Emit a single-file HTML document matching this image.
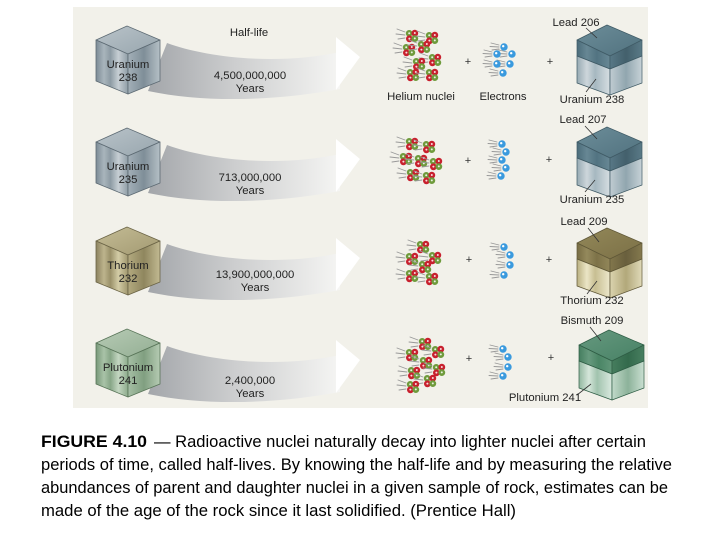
<!DOCTYPE html>
<html><head><meta charset="utf-8">
<style>
html,body{margin:0;padding:0;background:#fff;}
svg{display:block;}
text{font-family:"Liberation Sans",Arial,sans-serif;}
</style></head>
<body>
<svg width="720" height="540" viewBox="0 0 720 540" xmlns="http://www.w3.org/2000/svg">
<defs>
  <linearGradient id="band" gradientUnits="userSpaceOnUse" x1="148" y1="0" x2="342" y2="0">
    <stop offset="0" stop-color="#a3a6aa"/>
    <stop offset="0.45" stop-color="#cdcecf"/>
    <stop offset="1" stop-color="#f6f6f4"/>
  </linearGradient>
  <linearGradient id="uL2" x1="0" x2="1" y1="0" y2="0">
    <stop offset="0" stop-color="#7c8b96"/><stop offset="0.25" stop-color="#a9b5bc"/>
    <stop offset="0.45" stop-color="#8d9ba4"/><stop offset="0.7" stop-color="#c6ced3"/>
    <stop offset="1" stop-color="#909ea7"/>
  </linearGradient>
  <linearGradient id="uR" x1="0" x2="1" y1="0" y2="0">
    <stop offset="0" stop-color="#a3b0b8"/><stop offset="0.5" stop-color="#7f8e98"/><stop offset="1" stop-color="#b5c0c6"/>
  </linearGradient>
  <linearGradient id="uT" x1="0" x2="1" y1="0" y2="1">
    <stop offset="0" stop-color="#b9c3c9"/><stop offset="1" stop-color="#98a6ae"/>
  </linearGradient>
  <linearGradient id="tL" x1="0" x2="1">
    <stop offset="0" stop-color="#8c8360"/><stop offset="0.25" stop-color="#bdb48d"/>
    <stop offset="0.45" stop-color="#9a9169"/><stop offset="0.7" stop-color="#d3cca6"/>
    <stop offset="1" stop-color="#a0976e"/>
  </linearGradient>
  <linearGradient id="tR" x1="0" x2="1">
    <stop offset="0" stop-color="#b3aa80"/><stop offset="0.5" stop-color="#8f865e"/><stop offset="1" stop-color="#c2ba92"/>
  </linearGradient>
  <linearGradient id="tT" x1="0" x2="1" y1="0" y2="1">
    <stop offset="0" stop-color="#c4bc95"/><stop offset="1" stop-color="#a39a72"/>
  </linearGradient>
  <linearGradient id="pL" x1="0" x2="1">
    <stop offset="0" stop-color="#789879"/><stop offset="0.25" stop-color="#a9c3a8"/>
    <stop offset="0.45" stop-color="#87a687"/><stop offset="0.7" stop-color="#c3d6c1"/>
    <stop offset="1" stop-color="#8dab8c"/>
  </linearGradient>
  <linearGradient id="pR" x1="0" x2="1">
    <stop offset="0" stop-color="#a6bfa5"/><stop offset="0.5" stop-color="#809f80"/><stop offset="1" stop-color="#b5cbb3"/>
  </linearGradient>
  <linearGradient id="pT" x1="0" x2="1" y1="0" y2="1">
    <stop offset="0" stop-color="#b7cbb5"/><stop offset="1" stop-color="#93ae93"/>
  </linearGradient>
  <linearGradient id="dLT" x1="0" x2="1" y1="0" y2="1">
    <stop offset="0" stop-color="#6c8d99"/><stop offset="1" stop-color="#51727f"/>
  </linearGradient>
  <linearGradient id="dLU" x1="0" x2="1">
    <stop offset="0" stop-color="#4b6c7a"/><stop offset="0.3" stop-color="#678794"/><stop offset="0.6" stop-color="#527381"/><stop offset="1" stop-color="#688895"/>
  </linearGradient>
  <linearGradient id="dLR" x1="0" x2="1">
    <stop offset="0" stop-color="#587886"/><stop offset="0.5" stop-color="#43606c"/><stop offset="1" stop-color="#5a7a87"/>
  </linearGradient>
  <linearGradient id="dLB" x1="0" x2="1">
    <stop offset="0" stop-color="#97aab3"/><stop offset="0.3" stop-color="#cdd6db"/><stop offset="0.55" stop-color="#a6b8c0"/><stop offset="1" stop-color="#d6dee2"/>
  </linearGradient>
  <linearGradient id="dLBR" x1="0" x2="1">
    <stop offset="0" stop-color="#c0ccd2"/><stop offset="0.5" stop-color="#91a6af"/><stop offset="1" stop-color="#c7d2d7"/>
  </linearGradient>
  <linearGradient id="oT" x1="0" x2="1" y1="0" y2="1">
    <stop offset="0" stop-color="#938859"/><stop offset="1" stop-color="#7b7046"/>
  </linearGradient>
  <linearGradient id="oU" x1="0" x2="1">
    <stop offset="0" stop-color="#776c43"/><stop offset="0.3" stop-color="#94895c"/><stop offset="0.6" stop-color="#7d7248"/><stop offset="1" stop-color="#92875a"/>
  </linearGradient>
  <linearGradient id="oR" x1="0" x2="1">
    <stop offset="0" stop-color="#82774c"/><stop offset="0.5" stop-color="#695f3d"/><stop offset="1" stop-color="#84794e"/>
  </linearGradient>
  <linearGradient id="oB" x1="0" x2="1">
    <stop offset="0" stop-color="#bab081"/><stop offset="0.3" stop-color="#ebe5c6"/><stop offset="0.55" stop-color="#c7be92"/><stop offset="1" stop-color="#ede8cc"/>
  </linearGradient>
  <linearGradient id="oBR" x1="0" x2="1">
    <stop offset="0" stop-color="#dbd4af"/><stop offset="0.5" stop-color="#b2a87a"/><stop offset="1" stop-color="#e0dab9"/>
  </linearGradient>
  <linearGradient id="gT" x1="0" x2="1" y1="0" y2="1">
    <stop offset="0" stop-color="#66997f"/><stop offset="1" stop-color="#478165"/>
  </linearGradient>
  <linearGradient id="gU" x1="0" x2="1">
    <stop offset="0" stop-color="#457e5f"/><stop offset="0.3" stop-color="#679a7e"/><stop offset="0.6" stop-color="#4a8565"/><stop offset="1" stop-color="#62977a"/>
  </linearGradient>
  <linearGradient id="gR" x1="0" x2="1">
    <stop offset="0" stop-color="#467d5e"/><stop offset="0.5" stop-color="#336a4c"/><stop offset="1" stop-color="#487f60"/>
  </linearGradient>
  <linearGradient id="gB" x1="0" x2="1">
    <stop offset="0" stop-color="#92b7a0"/><stop offset="0.3" stop-color="#d5e6da"/><stop offset="0.55" stop-color="#a1c3ae"/><stop offset="1" stop-color="#dae9df"/>
  </linearGradient>
  <linearGradient id="gBR" x1="0" x2="1">
    <stop offset="0" stop-color="#c1d9c9"/><stop offset="0.5" stop-color="#8cb29a"/><stop offset="1" stop-color="#cadfd1"/>
  </linearGradient>

  <g id="he">
    <g stroke="#999" stroke-width="0.9" stroke-linecap="round">
      <line x1="-15" y1="-7" x2="-7" y2="-4"/>
      <line x1="-16" y1="-2" x2="-7" y2="-1"/>
      <line x1="-14" y1="3" x2="-7" y2="2"/>
    </g>
    <circle cx="-2.8" cy="-2.6" r="3.4" fill="#6f9b3c"/>
    <circle cx="2.8" cy="-2.8" r="3.4" fill="#c8202e"/>
    <circle cx="-2.6" cy="2.8" r="3.4" fill="#c8202e"/>
    <circle cx="2.8" cy="2.6" r="3.4" fill="#6f9b3c"/>
    <g fill="#fff" opacity="0.85">
      <circle cx="-2.8" cy="-2.8" r="1"/><circle cx="2.8" cy="-3" r="1"/>
      <circle cx="-2.6" cy="2.6" r="1"/><circle cx="2.8" cy="2.4" r="1"/>
    </g>
  </g>
  <g id="el">
    <g stroke="#999" stroke-width="0.9" stroke-linecap="round">
      <line x1="-13" y1="-4" x2="-5" y2="-2"/>
      <line x1="-14" y1="-0.5" x2="-5" y2="0"/>
      <line x1="-12" y1="3" x2="-5" y2="2"/>
    </g>
    <circle r="3.7" fill="#3a9ade"/>
    <circle cx="-0.8" cy="-0.8" r="1.2" fill="#fff"/>
  </g>

  <path id="arrowband" d="M167,43 C205,57 275,66 340,52 L340,89 C275,101 205,103 148,91 Z"/>
  <path id="arrowhead" d="M336,37 L360,57 L336,90 Z"/>
</defs>

<rect x="73" y="7" width="575" height="401" fill="#f2f1ea"/>

<g fill="url(#band)">
  <use href="#arrowband"/>
  <use href="#arrowband" transform="translate(0,102)"/>
  <use href="#arrowband" transform="translate(0,201)"/>
  <use href="#arrowband" transform="translate(0,303)"/>
</g>
<g fill="#ffffff">
  <use href="#arrowhead"/>
  <use href="#arrowhead" transform="translate(0,102)"/>
  <use href="#arrowhead" transform="translate(0,201)"/>
  <use href="#arrowhead" transform="translate(0,303)"/>
</g>

<g stroke-width="0.8" stroke-linejoin="round">
  <g stroke="#5d6a73">
    <polygon points="127,26 160,40 128,54 96,40" fill="url(#uT)"/>
    <polygon points="96,40 128,54 128,94 96,81" fill="url(#uL2)"/>
    <polygon points="128,54 160,40 160,81 128,94" fill="url(#uR)"/>
  </g>
  <g stroke="#5d6a73" transform="translate(0,102)">
    <polygon points="127,26 160,40 128,54 96,40" fill="url(#uT)"/>
    <polygon points="96,40 128,54 128,94 96,81" fill="url(#uL2)"/>
    <polygon points="128,54 160,40 160,81 128,94" fill="url(#uR)"/>
  </g>
  <g stroke="#6b6446" transform="translate(0,201)">
    <polygon points="127,26 160,40 128,54 96,40" fill="url(#tT)"/>
    <polygon points="96,40 128,54 128,94 96,81" fill="url(#tL)"/>
    <polygon points="128,54 160,40 160,81 128,94" fill="url(#tR)"/>
  </g>
  <g stroke="#587458" transform="translate(0,303)">
    <polygon points="127,26 160,40 128,54 96,40" fill="url(#pT)"/>
    <polygon points="96,40 128,54 128,94 96,81" fill="url(#pL)"/>
    <polygon points="128,54 160,40 160,81 128,94" fill="url(#pR)"/>
  </g>
</g>

<g stroke-width="0.7" stroke-linejoin="round">
  <g stroke="#3f5a65" transform="translate(607,25)">
    <polygon points="0,0 35,15 3,31 -30,15" fill="url(#dLT)"/>
    <polygon points="-30,15 3,31 3,44 -30,31" fill="url(#dLU)"/>
    <polygon points="3,31 35,15 35,31 3,44" fill="url(#dLR)"/>
    <polygon points="-30,31 3,44 3,70 -30,58" fill="url(#dLB)"/>
    <polygon points="3,44 35,31 35,58 3,70" fill="url(#dLBR)"/>
  </g>
  <g stroke="#3f5a65" transform="translate(607,127)">
    <polygon points="0,0 35,15 3,31 -30,15" fill="url(#dLT)"/>
    <polygon points="-30,15 3,31 3,44 -30,31" fill="url(#dLU)"/>
    <polygon points="3,31 35,15 35,31 3,44" fill="url(#dLR)"/>
    <polygon points="-30,31 3,44 3,70 -30,58" fill="url(#dLB)"/>
    <polygon points="3,44 35,31 35,58 3,70" fill="url(#dLBR)"/>
  </g>
  <g stroke="#5f5737" transform="translate(607,228)">
    <polygon points="0,0 35,15 3,31 -30,15" fill="url(#oT)"/>
    <polygon points="-30,15 3,31 3,44 -30,31" fill="url(#oU)"/>
    <polygon points="3,31 35,15 35,31 3,44" fill="url(#oR)"/>
    <polygon points="-30,31 3,44 3,70 -30,58" fill="url(#oB)"/>
    <polygon points="3,44 35,31 35,58 3,70" fill="url(#oBR)"/>
  </g>
  <g stroke="#2f5d45" transform="translate(609,330)">
    <polygon points="0,0 35,15 3,31 -30,15" fill="url(#gT)"/>
    <polygon points="-30,15 3,31 3,44 -30,31" fill="url(#gU)"/>
    <polygon points="3,31 35,15 35,31 3,44" fill="url(#gR)"/>
    <polygon points="-30,31 3,44 3,70 -30,58" fill="url(#gB)"/>
    <polygon points="3,44 35,31 35,58 3,70" fill="url(#gBR)"/>
  </g>
</g>

<g stroke="#333" stroke-width="0.8">
  <line x1="586" y1="28" x2="597" y2="38"/>
  <line x1="586" y1="92" x2="596" y2="79"/>
  <line x1="585" y1="126" x2="597" y2="139"/>
  <line x1="585" y1="192" x2="595" y2="180"/>
  <line x1="588" y1="228" x2="599" y2="242"/>
  <line x1="587" y1="294" x2="597" y2="281"/>
  <line x1="590" y1="327" x2="601" y2="341"/>
  <line x1="577" y1="395" x2="591" y2="384"/>
</g>

<g>
  <use href="#he" x="412" y="36"/><use href="#he" x="432" y="38"/>
  <use href="#he" x="409" y="50"/><use href="#he" x="424" y="47"/>
  <use href="#he" x="435" y="60"/><use href="#he" x="419" y="64"/>
  <use href="#he" x="413" y="75"/><use href="#he" x="432" y="75"/>

  <use href="#he" x="412" y="144"/><use href="#he" x="429" y="147"/>
  <use href="#he" x="406" y="159"/><use href="#he" x="421" y="161"/>
  <use href="#he" x="436" y="164"/><use href="#he" x="413" y="175"/>
  <use href="#he" x="429" y="178"/>

  <use href="#he" x="423" y="247"/><use href="#he" x="435" y="258"/>
  <use href="#he" x="412" y="259"/><use href="#he" x="425" y="267"/>
  <use href="#he" x="412" y="276"/><use href="#he" x="432" y="279"/>

  <use href="#he" x="425" y="344"/><use href="#he" x="412" y="355"/>
  <use href="#he" x="438" y="352"/><use href="#he" x="426" y="363"/>
  <use href="#he" x="439" y="370"/><use href="#he" x="414" y="373"/>
  <use href="#he" x="430" y="381"/><use href="#he" x="413" y="387"/>
</g>

<g>
  <use href="#el" x="504" y="47"/><use href="#el" x="512" y="54"/>
  <use href="#el" x="497" y="54"/><use href="#el" x="510" y="64"/>
  <use href="#el" x="497" y="64"/><use href="#el" x="503" y="73"/>

  <use href="#el" x="502" y="144"/><use href="#el" x="506" y="152"/>
  <use href="#el" x="502" y="160"/><use href="#el" x="506" y="168"/>
  <use href="#el" x="501" y="176"/>

  <use href="#el" x="504" y="247"/><use href="#el" x="510" y="255"/>
  <use href="#el" x="510" y="265"/><use href="#el" x="504" y="275"/>

  <use href="#el" x="503" y="349"/><use href="#el" x="508" y="357"/>
  <use href="#el" x="508" y="367"/><use href="#el" x="503" y="376"/>
</g>

<g font-size="11" fill="#333" text-anchor="middle">
  <text x="468" y="65">+</text><text x="550" y="65">+</text>
  <text x="468" y="164">+</text><text x="549" y="163">+</text>
  <text x="469" y="263">+</text><text x="549" y="263">+</text>
  <text x="469" y="362">+</text><text x="551" y="361">+</text>
</g>

<g font-size="11.3" fill="#222" text-anchor="middle">
  <text x="249" y="36">Half-life</text>
  <text x="250" y="79">4,500,000,000</text><text x="250" y="92">Years</text>
  <text x="250" y="181">713,000,000</text><text x="250" y="194">Years</text>
  <text x="255" y="278">13,900,000,000</text><text x="255" y="291">Years</text>
  <text x="250" y="384">2,400,000</text><text x="250" y="397">Years</text>

  <text x="128" y="68">Uranium</text><text x="128" y="81">238</text>
  <text x="128" y="170">Uranium</text><text x="128" y="183">235</text>
  <text x="128" y="269">Thorium</text><text x="128" y="282">232</text>
  <text x="128" y="371">Plutonium</text><text x="128" y="384">241</text>

  <text x="421" y="100">Helium nuclei</text>
  <text x="503" y="100">Electrons</text>

  <text x="576" y="26">Lead 206</text><text x="592" y="103">Uranium 238</text>
  <text x="583" y="123">Lead 207</text><text x="592" y="203">Uranium 235</text>
  <text x="584" y="225">Lead 209</text><text x="592" y="304">Thorium 232</text>
  <text x="592" y="324">Bismuth 209</text><text x="545" y="401">Plutonium 241</text>
</g>

<g font-size="17" fill="#000">
  <text x="41" y="447" font-weight="bold" textLength="106" lengthAdjust="spacingAndGlyphs">FIGURE 4.10</text>
  <text x="154" y="447" textLength="492" lengthAdjust="spacingAndGlyphs">— Radioactive nuclei naturally decay into lighter nuclei after certain</text>
  <text x="41" y="470" textLength="631" lengthAdjust="spacingAndGlyphs">periods of time, called half-lives. By knowing the half-life and by measuring the relative</text>
  <text x="41" y="493" textLength="627" lengthAdjust="spacingAndGlyphs">abundances of parent and daughter nuclei in a given sample of rock, estimates can be</text>
  <text x="41" y="516" textLength="475" lengthAdjust="spacingAndGlyphs">made of the age of the rock since it last solidified. (Prentice Hall)</text>
</g>
</svg>
</body></html>
